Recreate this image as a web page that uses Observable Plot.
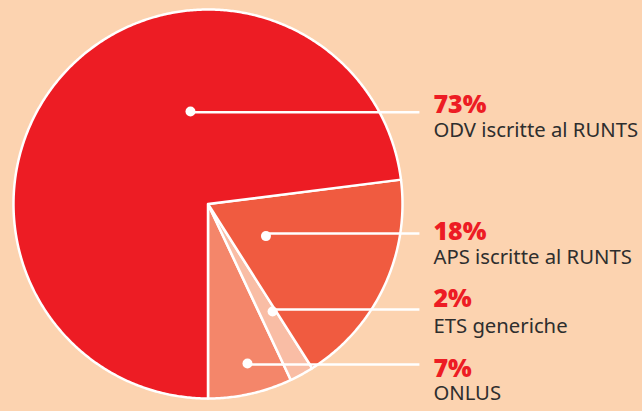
<!DOCTYPE html>
<html>
<head>
<meta charset="utf-8">
<script src="https://cdn.jsdelivr.net/npm/d3@7"></script>
<script src="https://cdn.jsdelivr.net/npm/@observablehq/plot@0.6"></script>
<style>
  html, body { margin: 0; padding: 0; background: #FCD3B0; }
  #chart svg { display: block; }
</style>
</head>
<body>
<div id="chart"></div>
<script>
// ---- data ----
const categories = ["ONLUS", "ETS generiche", "APS iscritte al RUNTS", "ODV iscritte al RUNTS"];
const values = [7, 2, 18, 73];
const pctLabels = ["7%", "2%", "18%", "73%"];
const colors = ["#F4866A", "#F9BDA5", "#F05B40", "#ED1C24"];

// ---- layout (unit circle coordinates: centre 0,0 radius 1) ----
const dotX = [0.203, 0.332, 0.298, -0.090];
const dotY = [-0.820, -0.553, -0.165, 0.476];
const lineY = [-0.825, -0.542, -0.152, 0.472];
const pctY = [-0.887, -0.532, -0.183, 0.470];
const nameY = [-1.010, -0.661, -0.306, 0.347];
const lineEndX = 1.087;
const labelX = 1.159;

// pie geometry from values (start at 6 o'clock, turning towards the right)
const total = d3.sum(values);
const slices = [];
let acc = 0;
values.forEach((v, i) => {
  const a0 = Math.PI - (acc / total) * 2 * Math.PI;
  acc += v;
  const a1 = Math.PI - (acc / total) * 2 * Math.PI;
  const n = Math.max(2, Math.ceil(Math.abs(a1 - a0) / (Math.PI / 360)));
  const pts = [{x: 0, y: 0, k: i}];
  for (let j = 0; j <= n; j++) {
    const a = a0 + (a1 - a0) * j / n;
    pts.push({x: Math.sin(a), y: Math.cos(a), k: i});
  }
  pts.push({x: 0, y: 0, k: i});
  slices.push(pts);
});

const labels = categories.map((c, i) => ({
  name: c, pct: pctLabels[i], dx: dotX[i], dy: dotY[i], ly: lineY[i], py: pctY[i], ny: nameY[i]
}));

const W = 642, H = 411, cx = 207.5, cy = 203.5, R = 194.5;

const chart = Plot.plot({
  width: W,
  height: H,
  margin: 0,
  style: {background: "#FCD3B0", overflow: "visible"},
  x: {domain: [-cx / R, (W - cx) / R], range: [0, W], axis: null},
  y: {domain: [-(H - cy) / R, cy / R], range: [H, 0], axis: null},
  marks: [
    ...slices.map((pts, i) => Plot.line(pts, {
      x: "x", y: "y", fill: colors[i], stroke: "white", strokeWidth: 2.5,
      strokeLinejoin: "round", curve: "linear"
    })),
    Plot.link(labels, {
      x1: "dx", y1: "ly", x2: () => lineEndX, y2: "ly",
      stroke: "white", strokeWidth: 2.5
    }),
    Plot.dot(labels, {x: "dx", y: "dy", r: 5, fill: "white", stroke: "none"}),
    Plot.text(labels, {
      x: () => labelX, y: "py", text: "pct", textAnchor: "start", lineAnchor: "bottom",
      fill: "#ED1C24", fontSize: 25, fontWeight: 800,
      fontFamily: "'Open Sans', 'Noto Sans', sans-serif"
    }),
    Plot.text(labels, {
      x: () => labelX, y: "ny", text: "name", textAnchor: "start", lineAnchor: "bottom",
      fill: "#2E2E2E", fontSize: 20.3,
      fontFamily: "'Noto Sans', 'Open Sans', sans-serif"
    })
  ]
});
document.getElementById("chart").appendChild(chart);
</script>
</body>
</html>
